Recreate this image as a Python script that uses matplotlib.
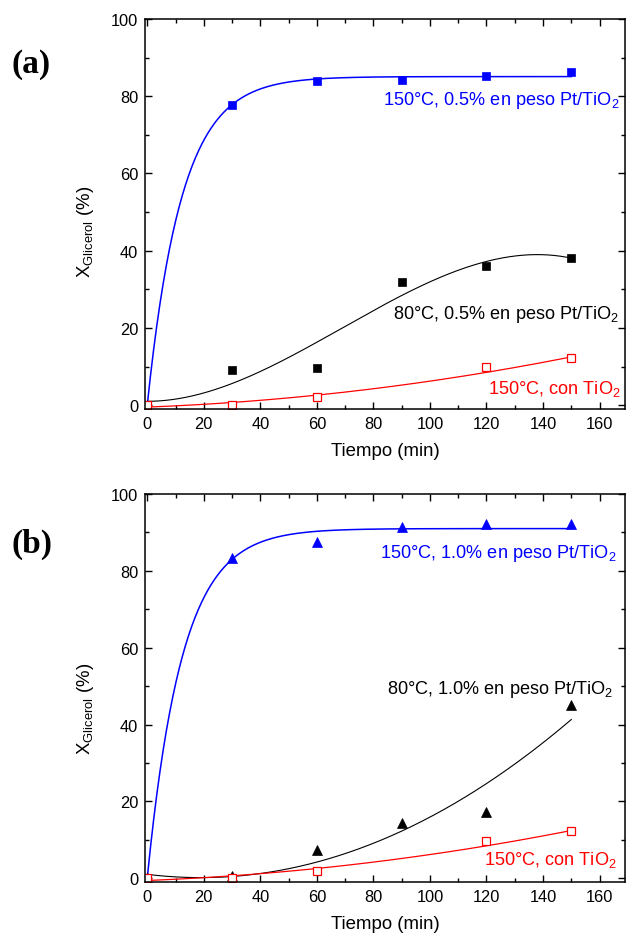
import numpy as np
import matplotlib
matplotlib.use("Agg")
import matplotlib.pyplot as plt
from matplotlib.ticker import MultipleLocator

plt.rcParams['font.family'] = ['Liberation Sans', 'DejaVu Sans']
plt.rcParams['mathtext.fontset'] = 'custom'
plt.rcParams['mathtext.rm'] = 'Liberation Sans'
plt.rcParams['mathtext.it'] = 'Liberation Sans:italic'
plt.rcParams['mathtext.bf'] = 'Liberation Sans:bold'

# measured points (time in min, conversion in %)
t_pts = [0, 30, 60, 90, 120, 150]
t_tio2 = [0, 30, 60, 120, 150]

a_150 = [0, 77.8, 84.0, 84.2, 85.3, 86.3]
a_80 = [0, 9.0, 9.7, 32.0, 36.0, 38.0]
a_tio2 = [0, 0.1, 2.1, 9.8, 12.2]

b_150 = [0, 83.3, 87.4, 91.3, 92.1, 92.3]
b_80 = [0, 0.5, 7.3, 14.3, 17.3, 45.2]
b_tio2 = [0, 0.1, 2.0, 9.8, 12.2]

# fitted curves
# 150C: y = A * (1 - exp(-k t))
a_150_fit = [85.1, 0.082]
b_150_fit = [91.0, 0.081]
# polynomial fits, coefficients c0, c1, c2, c3
a_80_fit = [1.0, 0.0, 0.005986, -2.892e-5]
b_80_fit = [1.0, -0.0903, 0.002393, 0.0]
a_tio2_fit = [-0.5, 0.0283, 3.89e-4, 0.0]
b_tio2_fit = [-0.6, 0.0290, 3.85e-4, 0.0]

lbl_a = ["150°C, 0.5% en peso Pt/TiO$_\\mathregular{2}$",
         "80°C, 0.5% en peso Pt/TiO$_\\mathregular{2}$",
         "150°C, con TiO$_\\mathregular{2}$"]
lbl_b = ["150°C, 1.0% en peso Pt/TiO$_\\mathregular{2}$",
         "80°C, 1.0% en peso Pt/TiO$_\\mathregular{2}$",
         "150°C, con TiO$_\\mathregular{2}$"]

BLUE = '#0000ff'
RED = '#ff0000'

tt = np.linspace(0, 150, 400)


def expo(p):
    return p[0] * (1 - np.exp(-p[1] * tt))


def poly(p):
    return p[0] + p[1] * tt + p[2] * tt ** 2 + p[3] * tt ** 3


def panel(ax, y150, f150, y80, f80, ytio2, ftio2, mk, ms, labels, lpos):
    ax.plot(tt, expo(f150), color=BLUE, lw=1.1)
    ax.plot(tt, poly(f80), color='black', lw=0.8)
    ax.plot(tt, poly(ftio2), color=RED, lw=0.9)
    ax.plot(t_pts, y150, mk, color=BLUE, ms=ms, mec=BLUE, mew=0.5, ls='none')
    ax.plot(t_pts, y80, mk, color='black', ms=ms, mew=0.5, ls='none')
    ax.plot(t_tio2, ytio2, 's', mfc='white', mec=RED, ms=5.6, mew=0.9, ls='none')
    for txt, col, (x, y) in zip(labels, [BLUE, 'black', RED], lpos):
        ax.text(x, y, txt, color=col, fontsize=13.1, ha='right', va='baseline')
    ax.set_xlim(-0.8, 169)
    ax.set_ylim(-1, 100)
    ax.xaxis.set_major_locator(MultipleLocator(20))
    ax.xaxis.set_minor_locator(MultipleLocator(10))
    ax.yaxis.set_major_locator(MultipleLocator(20))
    ax.yaxis.set_minor_locator(MultipleLocator(10))
    ax.tick_params(which='both', direction='in', top=True, right=True,
                   width=1.0, labelsize=11.8, pad=5)
    ax.tick_params(which='major', length=5)
    ax.tick_params(which='minor', length=3)
    for s in ax.spines.values():
        s.set_linewidth(1.1)
    ax.set_xlabel("Tiempo (min)", fontsize=13.4, labelpad=8)


fig = plt.figure(figsize=(6.26, 9.37), dpi=100)
ax1 = fig.add_axes([0.2316, 0.5624, 0.7668, 0.4162])
ax2 = fig.add_axes([0.2316, 0.0576, 0.7668, 0.4141])

panel(ax1, a_150, a_150_fit, a_80, a_80_fit, a_tio2, a_tio2_fit, 's', 5.4,
      lbl_a, [(166.9, 77.9), (166.9, 22.7), (167.5, 3.2)])
panel(ax2, b_150, b_150_fit, b_80, b_80_fit, b_tio2, b_tio2_fit, '^', 7.2,
      lbl_b, [(166.0, 83.7), (164.9, 48.1), (166.0, 3.8)])

ylab = "X$_\\mathregular{Glicerol}$ (%)"
fig.text(0.136, 1 - 232 / 937, ylab, rotation=90, ha='center', va='center', fontsize=13.4)
fig.text(0.136, 1 - 709 / 937, ylab, rotation=90, ha='center', va='center', fontsize=13.4)

fig.text(0.019, 1 - 73 / 937, "(a)", family='Liberation Serif', fontweight='bold',
         fontsize=24, ha='left', va='baseline')
fig.text(0.019, 1 - 553 / 937, "(b)", family='Liberation Serif', fontweight='bold',
         fontsize=24, ha='left', va='baseline')

fig.savefig("out.png", dpi=100)
